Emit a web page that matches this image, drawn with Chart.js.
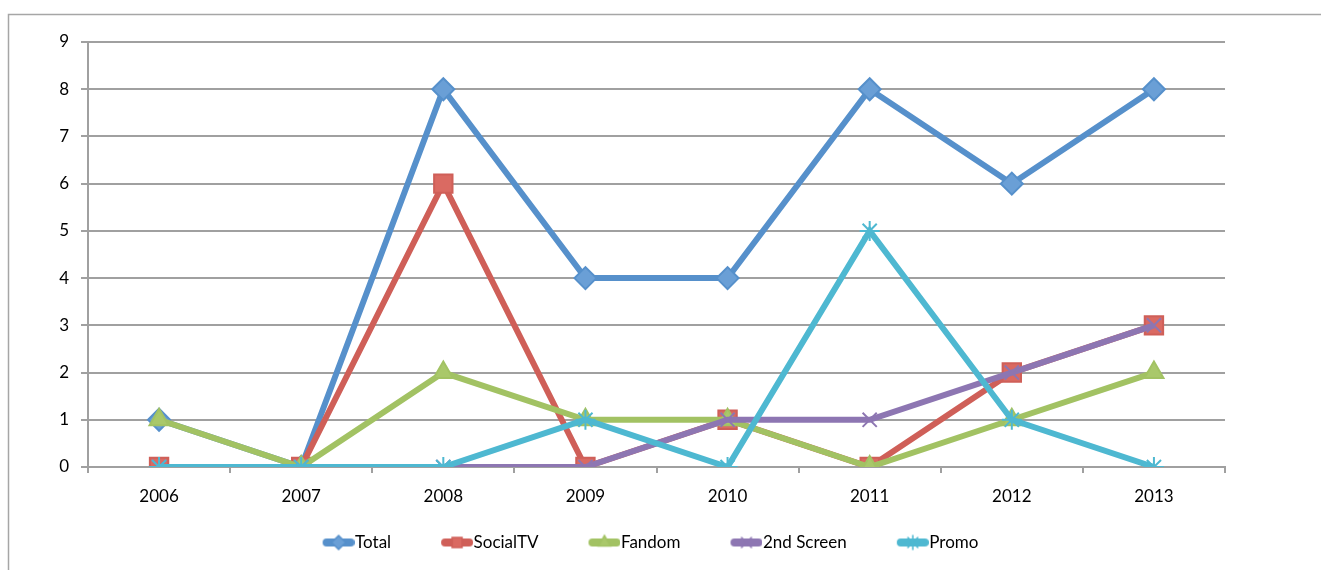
<!DOCTYPE html>
<html>
<head>
<meta charset="utf-8">
<script src="https://cdn.jsdelivr.net/npm/chart.js@4.4.1/dist/chart.umd.min.js"></script>
<style>
  html, body { margin: 0; padding: 0; background: #fff; }
  #wrap { width: 1321px; height: 570px; }
</style>
</head>
<body>
<div id="wrap"><canvas id="trend"></canvas></div>
<script>
var years = ['2006', '2007', '2008', '2009', '2010', '2011', '2012', '2013'];
var total = [1, 0, 8, 4, 4, 8, 6, 8];
var socialTV = [0, 0, 6, 0, 1, 0, 2, 3];
var fandom = [1, 0, 2, 1, 1, 0, 1, 2];
var secondScreen = [0, 0, 0, 0, 1, 1, 2, 3];
var promo = [0, 0, 0, 1, 0, 5, 1, 0];

var series = [
  { label: 'Total', data: total, color: '#5690CB', fill: '#6A9FD6', style: 'rectRot', r: 11 },
  { label: 'SocialTV', data: socialTV, color: '#CF5F58', fill: '#DA6A62', style: 'rect', r: 13 },
  { label: 'Fandom', data: fandom, color: '#A2C263', fill: '#A9C86A', style: 'triangle', r: 11 },
  { label: '2nd Screen', data: secondScreen, color: '#8D76B2', fill: '#8D76B2', style: 'crossRot', r: 10 },
  { label: 'Promo', data: promo, color: '#4EB8D1', fill: '#4EB8D1', style: 'star', r: 10 }
];

// legend symbol: blank gap on the left, then line + marker
function legendIcon(s) {
  var c = document.createElement('canvas');
  c.width = 80; c.height = 20;
  var ctx = c.getContext('2d');
  ctx.strokeStyle = s.color;
  ctx.lineWidth = 8;
  ctx.lineCap = 'round';
  ctx.beginPath();
  ctx.moveTo(52, 10); ctx.lineTo(76, 10);
  ctx.stroke();
  ctx.fillStyle = s.fill;
  ctx.strokeStyle = s.color;
  ctx.lineWidth = 1.5;
  Chart.helpers.drawPoint(ctx, { pointStyle: s.style, radius: 7, borderWidth: 1.5, rotation: 0 }, 64, 10);
  return c;
}

var frame = {
  id: 'frame',
  beforeDraw: function (chart) {
    var ctx = chart.ctx;
    ctx.save();
    ctx.strokeStyle = '#A6A6A6';
    ctx.lineWidth = 1.5;
    ctx.beginPath();
    ctx.moveTo(8.5, 600);
    ctx.lineTo(8.5, 14.5);
    ctx.lineTo(1330, 14.5);
    ctx.stroke();
    ctx.restore();
  },
  afterLayout: function (chart) {
    // legend is centred on the whole frame, not on the plot
    if (chart.legend) {
      chart.legend.left += 18;
      chart.legend.right += 18;
    }
  }
};

var datasets = series.map(function (s) {
  return {
    label: s.label,
    data: s.data,
    borderColor: s.color,
    backgroundColor: s.fill,
    borderWidth: 6,
    tension: 0,
    pointStyle: s.style,
    pointRadius: s.r,
    pointHoverRadius: s.r,
    pointBorderWidth: 2,
    pointBorderColor: s.color,
    pointBackgroundColor: s.fill,
    icon: legendIcon(s)
  };
}).reverse();

new Chart(document.getElementById('trend'), {
  type: 'line',
  data: { labels: years, datasets: datasets },
  plugins: [frame],
  options: {
    responsive: true,
    maintainAspectRatio: false,
    animation: false,
    layout: { padding: { top: 42, right: 96, bottom: 9, left: 0 } },
    plugins: {
      tooltip: { enabled: false },
      legend: {
        position: 'bottom',
        reverse: true,
        labels: {
          usePointStyle: true,
          pointStyleWidth: 64,
          padding: 10,
          color: '#000',
          font: { family: 'Lato', size: 17 },
          generateLabels: function (chart) {
            return chart.data.datasets.map(function (ds, i) {
              return {
                text: ds.label,
                pointStyle: ds.icon,
                fillStyle: ds.backgroundColor,
                strokeStyle: ds.borderColor,
                lineWidth: 0,
                datasetIndex: i,
                hidden: false
              };
            });
          }
        }
      }
    },
    scales: {
      x: {
        offset: true,
        afterFit: function (scale) { scale.height = 57; },
        grid: { drawOnChartArea: false, drawTicks: true, tickLength: 6, color: '#A0A0A0', lineWidth: 2, offset: true },
        border: { color: '#A0A0A0', width: 2 },
        ticks: { color: '#000', padding: 13, font: { family: 'Lato', size: 17 } }
      },
      y: {
        min: 0,
        max: 9,
        afterFit: function (scale) { scale.width = 88; },
        grid: { color: '#A0A0A0', lineWidth: 2, tickLength: 7 },
        border: { color: '#A0A0A0', width: 2 },
        ticks: { stepSize: 1, color: '#000', padding: 12, font: { family: 'Lato', size: 17 } }
      }
    }
  }
});
</script>
</body>
</html>
